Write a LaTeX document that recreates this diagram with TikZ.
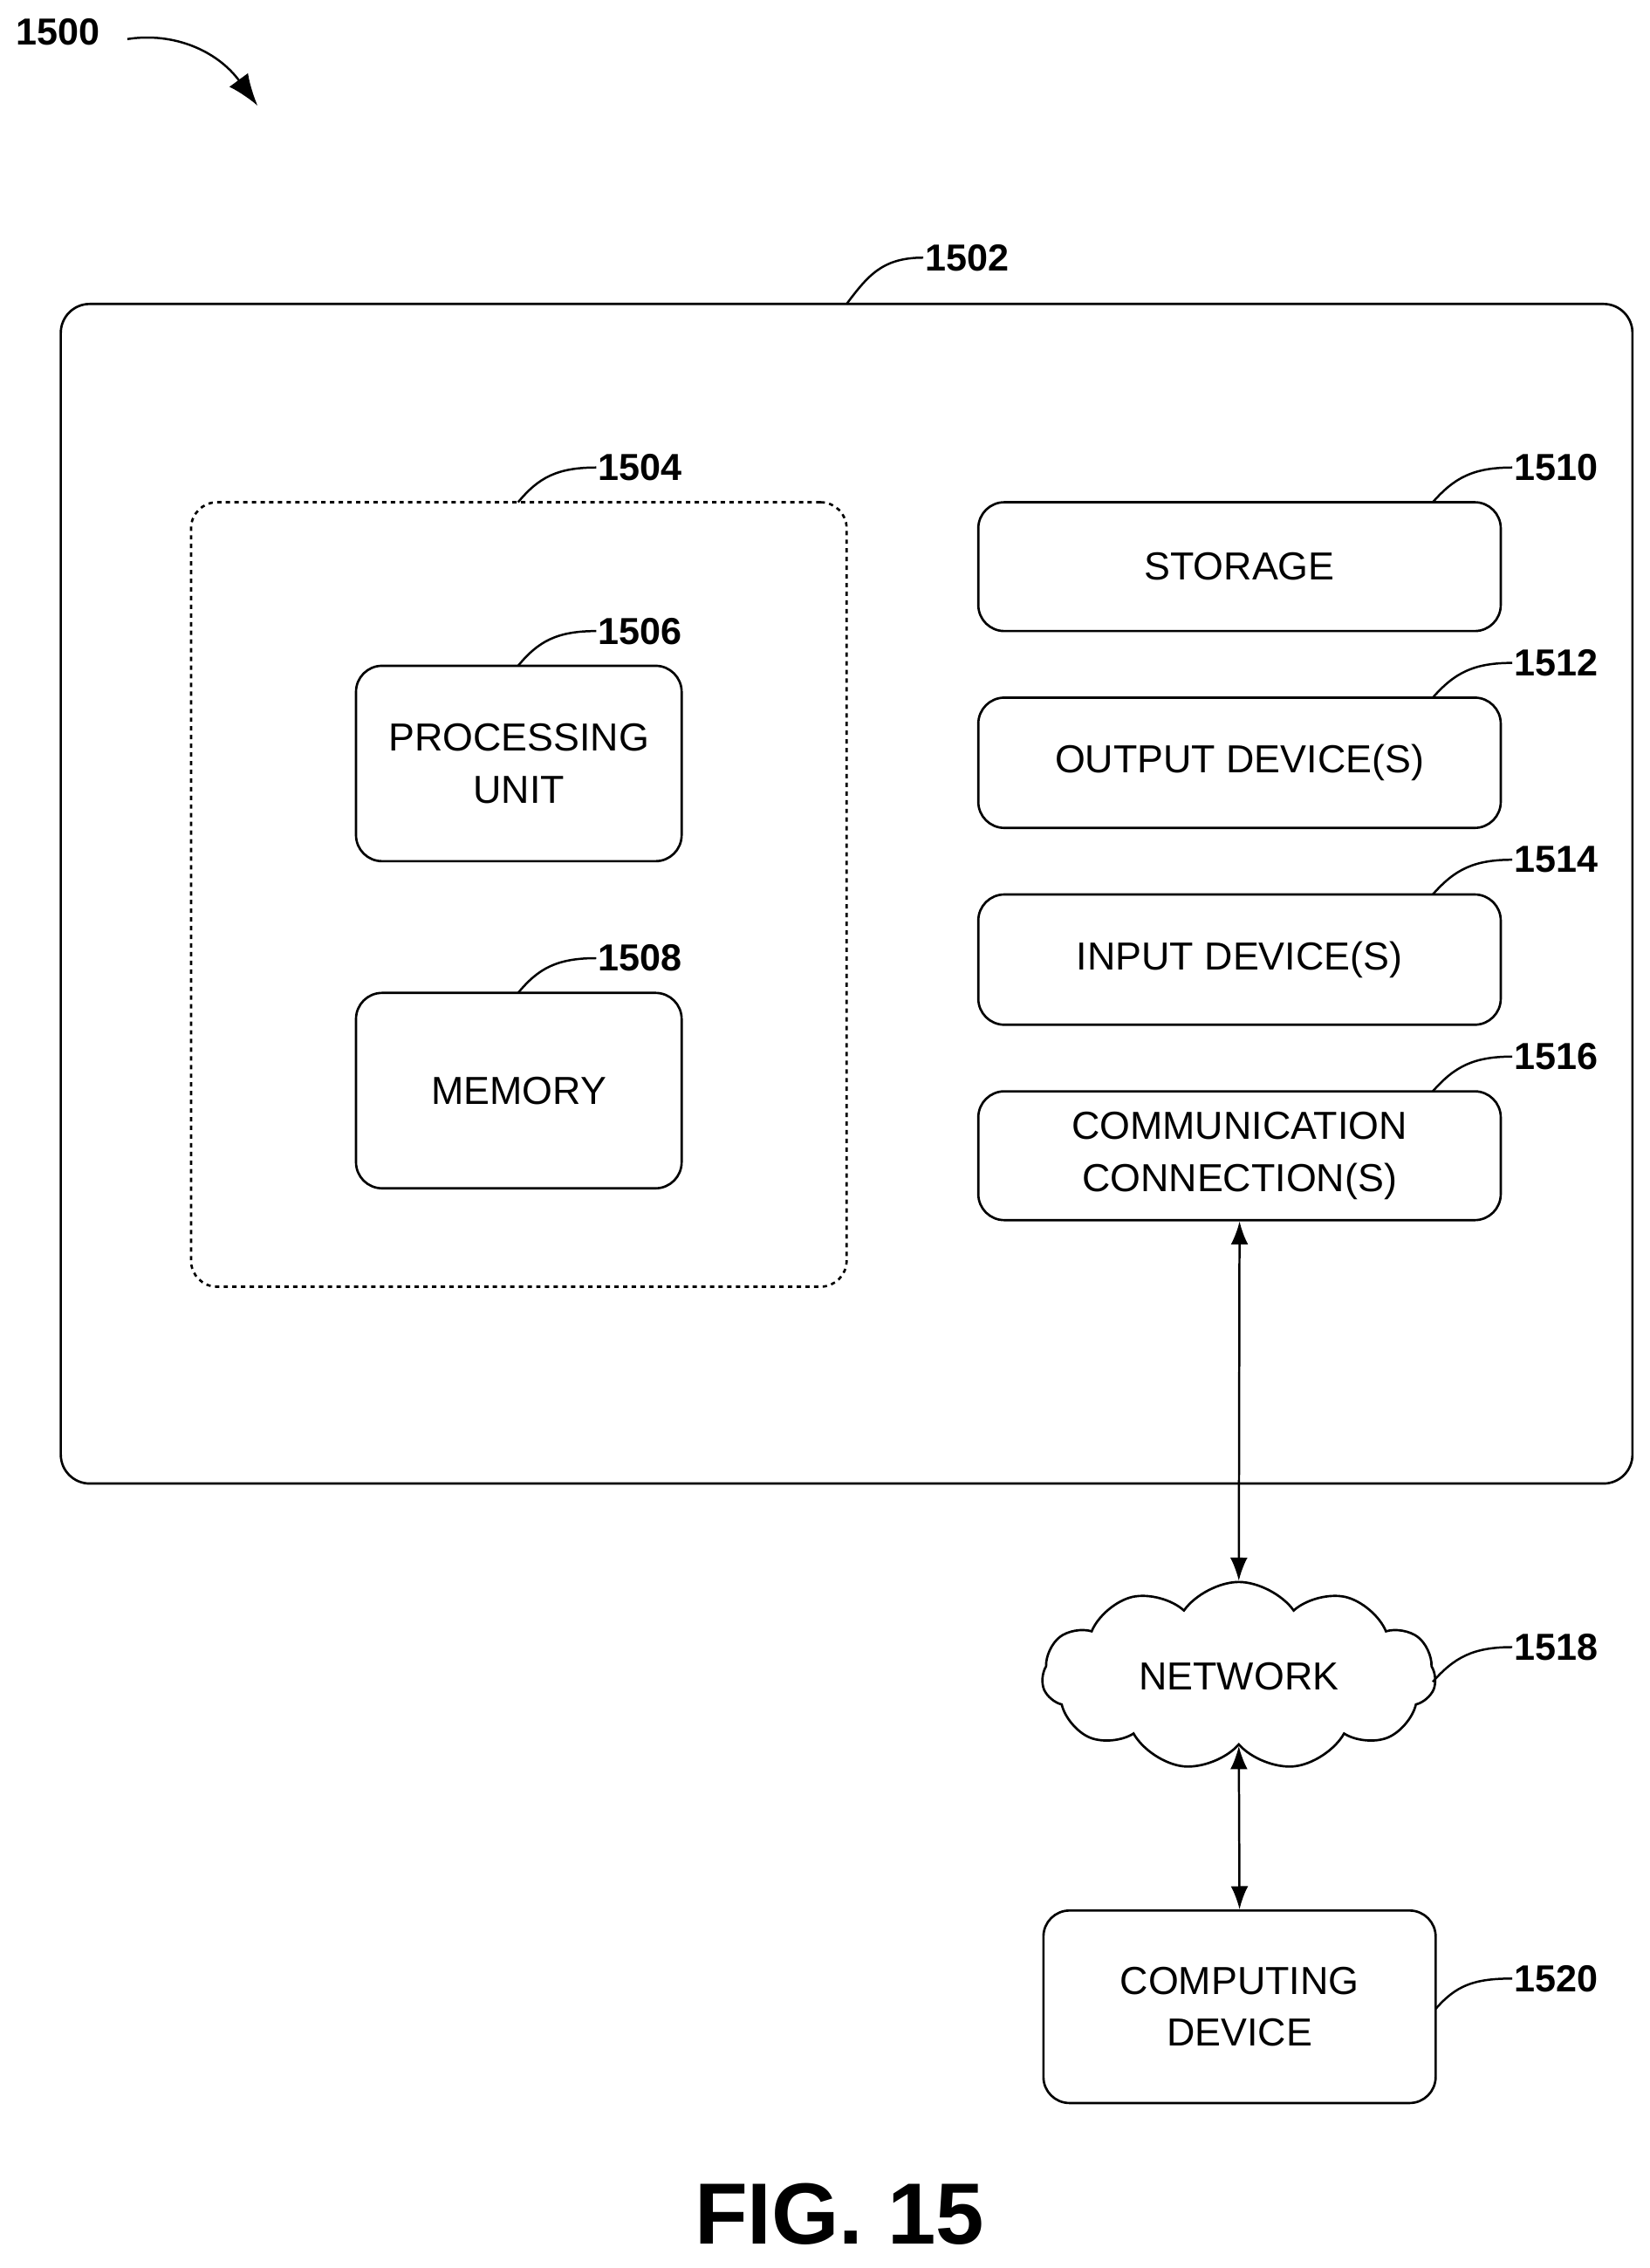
\documentclass[tikz,border=0pt]{standalone}
\usepackage{fontspec}
\setmainfont{Liberation Sans}
\usetikzlibrary{shapes.symbols,arrows.meta}
\begin{document}
\begin{tikzpicture}[x=1pt,y=-1pt,
  box/.style={draw,line width=1.6pt,rounded corners=18pt,align=center,font=\fontsize{27}{36}\selectfont,inner sep=0pt},
  lab/.style={anchor=west,font=\bfseries\fontsize{26}{30}\selectfont,inner sep=1pt},
  ld/.style={line width=1.5pt},
  arr/.style={line width=1.5pt,{Latex[length=16pt,width=12pt]}-{Latex[length=16pt,width=12pt]}}]
\useasboundingbox (0,0) rectangle (1140,1567);
\node[box,rounded corners=20pt,minimum width=1086pt,minimum height=815pt] (b1502) at (585,617.5) {};
\node[box,dashed,minimum width=453pt,minimum height=542pt] (b1504) at (358.5,618) {};
\node[box,minimum width=225pt,minimum height=135pt] (pu) at (358.5,527.5) {PROCESSING\\UNIT};
\node[box,minimum width=225pt,minimum height=135pt] (mem) at (358.5,753.5) {MEMORY};
\node[box,minimum width=361pt,minimum height=89pt] (st) at (856.5,391.5) {STORAGE};
\node[box,minimum width=361pt,minimum height=90pt] (out) at (856.5,527) {OUTPUT DEVICE(S)};
\node[box,minimum width=361pt,minimum height=90pt] (in) at (856.5,663) {INPUT DEVICE(S)};
\node[box,minimum width=361pt,minimum height=89pt] (com) at (856.5,798.5) {COMMUNICATION\\CONNECTION(S)};
\node[cloud,cloud puffs=11,cloud puff arc=110,aspect=2.1,draw,line width=1.6pt,minimum width=272pt,minimum height=130pt,inner sep=0pt,font=\fontsize{27}{36}\selectfont] (net) at (856,1158) {NETWORK};
\node[box,minimum width=271pt,minimum height=133pt] (cd) at (856.5,1386.5) {COMPUTING\\DEVICE};
\draw[arr] (com.south) -- (net.north);
\draw[arr] (net.south) -- (cd.north);
% labels
\node[lab] (l1500) at (10,22) {1500};
\coordinate (a1500) at (178,73);
\draw[ld,-{Latex[length=22pt,width=16pt]}] (88,27) .. controls (120,22) and (150,35) .. (a1500);
\node[lab] (l1502) at (638,178) {1502};
\draw[ld] (585,210) .. controls (600,190) and (610,178) .. (l1502.west);
\node[lab] (l1504) at (412,323) {1504};
\draw[ld] (358,347) .. controls (372,330) and (385,323) .. (l1504.west);
\node[lab] (l1506) at (412,436) {1506};
\draw[ld] (358,460) .. controls (372,443) and (385,436) .. (l1506.west);
\node[lab] (l1508) at (412,662) {1508};
\draw[ld] (358,686) .. controls (372,669) and (385,662) .. (l1508.west);
\node[lab] (l1510) at (1045,323) {1510};
\draw[ld] (990,347) .. controls (1005,330) and (1018,323) .. (l1510.west);
\node[lab] (l1512) at (1045,458) {1512};
\draw[ld] (990,482) .. controls (1005,465) and (1018,458) .. (l1512.west);
\node[lab] (l1514) at (1045,594) {1514};
\draw[ld] (990,618) .. controls (1005,601) and (1018,594) .. (l1514.west);
\node[lab] (l1516) at (1045,730) {1516};
\draw[ld] (990,754) .. controls (1005,737) and (1018,730) .. (l1516.west);
\node[lab] (l1518) at (1045,1138) {1518};
\draw[ld] (990,1162) .. controls (1005,1145) and (1018,1138) .. (l1518.west);
\node[lab] (l1520) at (1045,1367) {1520};
\draw[ld] (992,1388) .. controls (1006,1372) and (1018,1367) .. (l1520.west);
\node[font=\bfseries\fontsize{60}{70}\selectfont] (fig) at (580,1530) {FIG. 15};
\end{tikzpicture}
\end{document}
